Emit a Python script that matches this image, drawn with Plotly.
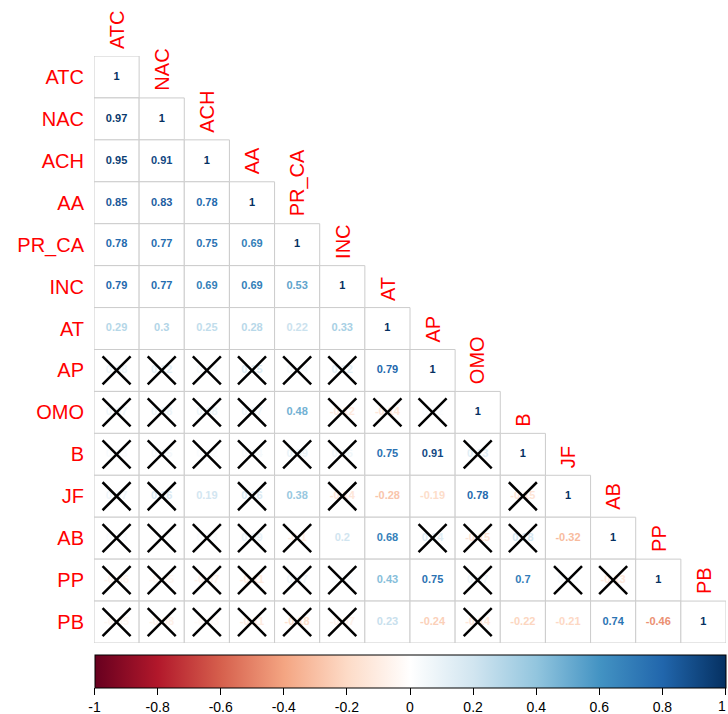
import plotly.graph_objects as go

names = ["ATC", "NAC", "ACH", "AA", "PR_CA", "INC", "AT", "AP", "OMO", "B", "JF", "AB", "PP", "PB"]

# lower-triangle correlation rows (row i has i+1 values: columns 0..i)
r_ATC = [1]
r_NAC = [0.97, 1]
r_ACH = [0.95, 0.91, 1]
r_AA = [0.85, 0.83, 0.78, 1]
r_PR_CA = [0.78, 0.77, 0.75, 0.69, 1]
r_INC = [0.79, 0.77, 0.69, 0.69, 0.53, 1]
r_AT = [0.29, 0.3, 0.25, 0.28, 0.22, 0.33, 1]
r_AP = [0.08, 0.12, 0.04, 0.15, 0.04, 0.12, 0.79, 1]
r_OMO = [0.07, 0.08, 0.08, 0.07, 0.48, -0.12, -0.14, 0.02, 1]
r_B = [0.03, 0.05, 0.02, 0.04, 0.09, 0.06, 0.75, 0.91, 0.13, 1]
r_JF = [0.07, 0.16, 0.19, 0.16, 0.38, -0.14, -0.28, -0.19, 0.78, -0.15, 1]
r_AB = [0.03, 0.01, 0.03, 0.09, -0.1, 0.2, 0.68, 0.14, -0.15, 0.18, -0.32, 1]
r_PP = [-0.06, -0.05, -0.07, -0.11, 0.07, 0.02, 0.43, 0.75, 0.07, 0.7, 0.03, -0.13, 1]
r_PB = [-0.05, -0.08, -0.03, -0.11, -0.18, -0.07, 0.23, -0.24, -0.14, -0.22, -0.21, 0.74, -0.46, 1]
rows = [r_ATC, r_NAC, r_ACH, r_AA, r_PR_CA, r_INC, r_AT, r_AP, r_OMO, r_B, r_JF, r_AB, r_PP, r_PB]

# non-significant cells (column indices per row)
ns_AP = [0, 1, 2, 3, 4, 5]
ns_OMO = [0, 1, 2, 3, 5, 6, 7]
ns_B = [0, 1, 2, 3, 4, 5, 8]
ns_JF = [0, 1, 3, 5, 9]
ns_AB = [0, 1, 2, 3, 4, 7, 8, 9]
ns_PP = [0, 1, 2, 3, 4, 5, 8, 10, 11]
ns_PB = [0, 1, 2, 3, 4, 5, 8]
nonsig = {7: ns_AP, 8: ns_OMO, 9: ns_B, 10: ns_JF, 11: ns_AB, 12: ns_PP, 13: ns_PB}

cbar_ticks = [-1, -0.8, -0.6, -0.4, -0.2, 0, 0.2, 0.4, 0.6, 0.8, 1]

rdbu = ["#67001F", "#B2182B", "#D6604D", "#F4A582", "#FDDBC7", "#FFFFFF",
        "#D1E5F0", "#92C5DE", "#4393C3", "#2166AC", "#053061"]


def hex2rgb(h):
    h = h.lstrip("#")
    return [int(h[k:k + 2], 16) for k in (0, 2, 4)]


def val_color(v):
    t = (v + 1) / 2 * (len(rdbu) - 1)
    k = min(int(t), len(rdbu) - 2)
    f = t - k
    a, b = hex2rgb(rdbu[k]), hex2rgb(rdbu[k + 1])
    c = [round(a[m] + (b[m] - a[m]) * f) for m in range(3)]
    return "rgb(%d,%d,%d)" % tuple(c)


def fmt(v):
    return f"{v:.2f}".rstrip("0").rstrip(".")


fig = go.Figure()

# cell borders
for i, row in enumerate(rows):
    for j in range(len(row)):
        fig.add_shape(type="rect", x0=j - 0.5, x1=j + 0.5, y0=i - 0.5, y1=i + 0.5,
                      xref="x", yref="y", line=dict(color="#CCCCCC", width=1),
                      fillcolor="white", layer="below")

tx, ty, tt, tc = [], [], [], []
for i, row in enumerate(rows):
    for j, v in enumerate(row):
        tx.append(j)
        ty.append(i)
        tt.append(fmt(v))
        tc.append(val_color(v))

fig.add_trace(go.Scatter(x=tx, y=ty, mode="text", text=tt,
                         textfont=dict(color=tc, size=11, family="Liberation Sans, Arial", weight="bold"),
                         hoverinfo="skip", showlegend=False))

xx, xy = [], []
for i, cols in nonsig.items():
    for j in cols:
        xx.append(j)
        xy.append(i)
fig.add_trace(go.Scatter(x=xx, y=xy, mode="markers",
                         marker=dict(symbol="x-thin", size=28, color="black",
                                     line=dict(color="black", width=2.5)),
                         hoverinfo="skip", showlegend=False))

# colorbar carrier
cs = [[k / (len(rdbu) - 1), c] for k, c in enumerate(rdbu)]
tick_pos = [max(min(t, 0.9999), -0.9999) for t in cbar_ticks]
tick_txt = [fmt(t) for t in cbar_ticks[:-1]] + [""]
fig.add_trace(go.Scatter(x=[0, 0], y=[0, 0], mode="markers",
                         marker=dict(color=[-1, 1], cmin=-1, cmax=1, colorscale=cs, opacity=0,
                                     showscale=True,
                                     colorbar=dict(orientation="h", x=0.5, xanchor="center",
                                                   y=-0.02, yanchor="top", len=631, lenmode="pixels",
                                                   thickness=33, outlinecolor="black", outlinewidth=1,
                                                   xpad=0, ypad=0,
                                                   ticks="outside", ticklen=7, tickcolor="black",
                                                   tickvals=tick_pos,
                                                   ticktext=tick_txt,
                                                   tickfont=dict(size=14, color="black",
                                                                 family="Liberation Sans, Arial"))),
                         hoverinfo="skip", showlegend=False))

# last colorbar label (would overflow the page edge otherwise)
fig.add_annotation(x=1, y=0, xref="paper", yref="paper", text=fmt(cbar_ticks[-1]),
                   showarrow=False, xanchor="right", xshift=2, yanchor="top", yshift=-53,
                   font=dict(size=14, color="black", family="Liberation Sans, Arial"))

for j, n in enumerate(names):
    fig.add_annotation(x=j, y=j - 0.5, xref="x", yref="y", text=n, textangle=-90,
                       showarrow=False, xanchor="center", yanchor="bottom", yshift=5,
                       font=dict(color="red", size=20, family="Liberation Sans, Arial"))

fig.update_xaxes(range=[-0.5, 13.5], showticklabels=False, showgrid=False, zeroline=False,
                 showline=False)
fig.update_yaxes(range=[13.5, -0.5], tickvals=list(range(len(names))), ticktext=names,
                 showgrid=False, zeroline=False, showline=False, ticks="",
                 ticklabelstandoff=9,
                 tickfont=dict(color="red", size=20, family="Liberation Sans, Arial"))

fig.update_layout(width=728, height=714,
                  margin=dict(l=94, r=2, t=56, b=71, autoexpand=False),
                  plot_bgcolor="white", paper_bgcolor="white")

fig.write_html("out.html", config={"displayModeBar": False},
               post_script="document.body.style.margin='0';document.body.style.overflow='hidden';")
